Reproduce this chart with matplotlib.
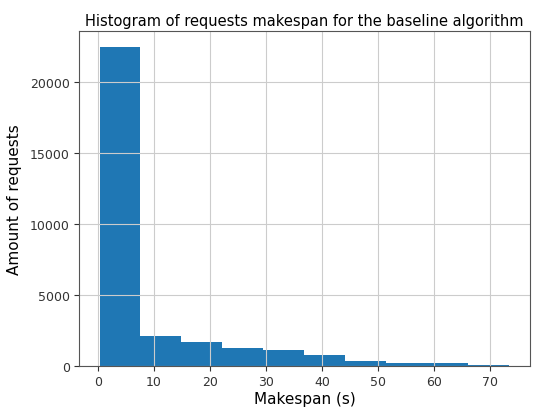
import numpy as np
import matplotlib
matplotlib.use("Agg")
import matplotlib.pyplot as plt

# bin edges (s) and request counts
bin_edges = np.linspace(0.3, 73.4, 11)
counts = [22500, 2110, 1690, 1290, 1100, 775, 350, 230, 210, 70]

centers = (bin_edges[:-1] + bin_edges[1:]) / 2

fig = plt.figure(figsize=(5.34, 4.10), dpi=100)
ax = fig.add_axes([0.148, 0.105, 0.844, 0.817])
ax.hist(centers, bins=bin_edges, weights=counts, color="#1f77b4")
ax.grid(True, color="#cccccc")
ax.set_title("Histogram of requests makespan for the baseline algorithm", fontsize=10.5, pad=4)
ax.set_xlabel("Makespan (s)", fontsize=11, labelpad=2)
ax.set_ylabel("Amount of requests", fontsize=11, labelpad=6)
ax.set_xticks([0, 10, 20, 30, 40, 50, 60, 70])
ax.tick_params(labelsize=9, pad=3, colors="#333333")
for s in ax.spines.values():
    s.set_color("#555555")

fig.savefig("out.png", dpi=100)
